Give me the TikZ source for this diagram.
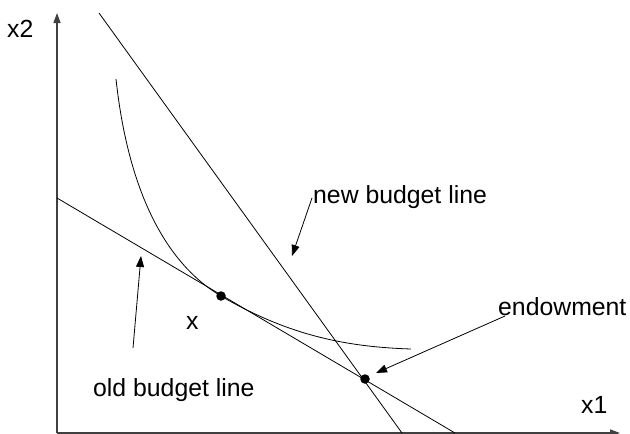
\documentclass[tikz,border=0pt]{standalone}
\usepackage{fontspec}
\setmainfont{Liberation Sans}
\usetikzlibrary{arrows.meta}
\begin{document}
\begin{tikzpicture}[x=1pt,y=-1pt,
  axis/.style={draw=black!75,line width=1.3pt,-{Triangle[length=10pt,width=7pt]}},
  budget/.style={draw=black,line width=0.8pt},
  pointer/.style={draw=black,line width=0.8pt,-{Triangle[length=11pt,width=8pt]}},
  lbl/.style={font=\fontsize{24.8}{29}\selectfont,inner sep=0pt},
  pt/.style={circle,fill=black,minimum size=9.5pt,inner sep=0pt}]
\useasboundingbox (0,0) rectangle (630,434);

% axes
\coordinate (O) at (57,433);
\coordinate (ytop) at (57,13);
\coordinate (xend) at (620,433);
\draw[axis] (O) -- (ytop);
\draw[axis] (O) -- (xend);
\node[lbl,anchor=base west] (x2) at (7,37) {x2};
\node[lbl,anchor=base west] (x1) at (581,413) {x1};

% budget lines
\coordinate (newtop) at (99,13);
\coordinate (newbot) at (402,433);
\coordinate (oldtop) at (57,198);
\coordinate (oldbot) at (455,433);
\draw[budget] (newtop) -- (newbot);
\draw[budget] (oldtop) -- (oldbot);

% indifference curve
\coordinate (cstart) at (116,79);
\coordinate (cend) at (411,349);
\node[pt] (opt) at (221,296) {};
\node[pt] (endow) at (365,379) {};
\draw[budget] (cstart) .. controls (128,190) and (165,263) .. (opt.center)
  .. controls (291,337) and (350,347) .. (cend);

% labels and pointers
\node[lbl,anchor=base west] (newlbl) at (313,203) {new budget line};
\coordinate (newtail) at (312,198);
\coordinate (newtip) at (292,256);
\draw[pointer] (newtail) -- (newtip);

\node[lbl,anchor=base west] (oldlbl) at (93,396) {old budget line};
\coordinate (oldtail) at (133,348);
\coordinate (oldtip) at (141,256);
\draw[pointer] (oldtail) -- (oldtip);

\node[lbl,anchor=base west] (endlbl) at (498,315) {endowment};
\coordinate (endtail) at (505,316);
\coordinate (endtip) at (376,373);
\draw[pointer] (endtail) -- (endtip);

\node[lbl,anchor=base west] (xlbl) at (186,329) {x};
\end{tikzpicture}
\end{document}
